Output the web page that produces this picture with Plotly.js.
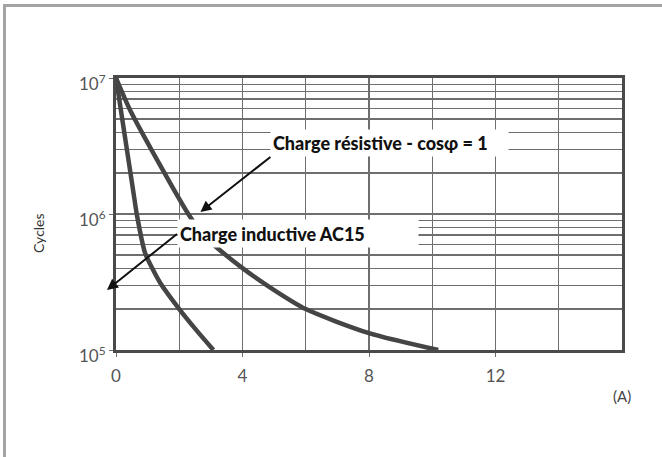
<!DOCTYPE html>
<html>
<head>
<meta charset="utf-8">
<script src="https://cdn.plot.ly/plotly-3.0.1.min.js"></script>
<style>
html,body{margin:0;padding:0;background:#fff;}
#wrap{position:relative;width:662px;height:457px;overflow:hidden;}
#frame{position:absolute;left:3px;top:4px;width:700px;height:500px;border-top:3px solid #a3a3a3;border-left:3px solid #a3a3a3;pointer-events:none;z-index:5;}
#chart{position:absolute;left:0;top:0;width:662px;height:457px;}
</style>
</head>
<body>
<div id="wrap"><div id="chart"></div><div id="frame"></div></div>
<script>
// Curve: Charge inductive AC15 (A, cycles)
var inductiveX = [0, 0.27, 0.54, 0.667, 0.92, 1.175, 1.4, 2.0, 2.54, 3.08];
var inductiveY = [1e7, 3.87e6, 1.5e6, 9.67e5, 5.16e5, 3.87e5, 3.11e5, 2.0e5, 1.4e5, 1e5];
// Curve: Charge résistive - cosφ = 1 (A, cycles)
var resistiveX = [0, 0.444, 1.3, 2.286, 2.7, 3.08, 4, 5, 6, 8, 10.19];
var resistiveY = [1e7, 5.82e6, 2.5e6, 1e6, 7.35e5, 5.97e5, 4e5, 2.76e5, 2e5, 1.33e5, 1e5];

var xTickVals = [0, 4, 8, 12];
var xTickText = ['0', '4', '8', '12'];
var xGridVals = [2, 4, 6, 8, 10, 12, 14];
var yTickVals = [1e5, 1e6, 1e7];
var yTickText = ['10<sup>5</sup>', '10<sup>6</sup>', '10<sup>7</sup>'];
var yGridVals = [2e5, 3e5, 4e5, 5e5, 6e5, 7e5, 8e5, 9e5, 2e6, 3e6, 4e6, 5e6, 6e6, 7e6, 8e6, 9e6];

var labelResistive = 'Charge résistive - cosφ = 1';
var labelInductive = 'Charge inductive AC15';
var xTitle = '(A)';
var yTitle = 'Cycles';

var lineStyle = {color: '#454545', width: 4.5, shape: 'spline', smoothing: 0.7};

var traces = [
  {x: inductiveX, y: inductiveY, type: 'scatter', mode: 'lines', line: lineStyle, hoverinfo: 'skip', cliponaxis: true},
  {x: resistiveX, y: resistiveY, type: 'scatter', mode: 'lines', line: lineStyle, hoverinfo: 'skip', cliponaxis: true}
];

var tickFont = {family: 'Lato, "DejaVu Sans", sans-serif', size: 17, color: '#555'};
var annFont = {family: 'Lato, "Liberation Sans", sans-serif', size: 18, color: '#111', weight: 900};

var layout = {
  width: 662, height: 457,
  margin: {l: 116, r: 40, t: 78, b: 107},
  paper_bgcolor: '#fff', plot_bgcolor: '#fff',
  showlegend: false,
  xaxis: {
    range: [0, 16], tickvals: xTickVals, ticktext: xTickText,
    showgrid: true, gridcolor: '#6e6e6e', gridwidth: 1.2,
    showline: true, linecolor: '#4a4a4a', linewidth: 3, mirror: true,
    ticks: 'outside', ticklen: 4, tickcolor: '#6e6e6e', ticklabelstandoff: 5,
    tickfont: tickFont, zeroline: false, fixedrange: true,
    minor: {tickvals: xGridVals, showgrid: true, gridcolor: '#6e6e6e', gridwidth: 1.2, ticks: ''}
  },
  yaxis: {
    type: 'log', range: [5, 7], tickvals: yTickVals, ticktext: yTickText,
    showgrid: true, gridcolor: '#6e6e6e', gridwidth: 1.2,
    showline: true, linecolor: '#4a4a4a', linewidth: 3, mirror: true,
    ticks: 'outside', ticklen: 4, tickcolor: '#6e6e6e', ticklabelshift: 6,
    tickfont: tickFont, zeroline: false, fixedrange: true,
    minor: {tickvals: yGridVals, showgrid: true, gridcolor: '#6e6e6e', gridwidth: 1.2, ticks: ''}
  },
  annotations: [
    {xref: 'x', yref: 'y', x: 2.67, y: 6.015, ax: 70, ay: -55,
     text: labelResistive, showarrow: true, arrowhead: 2, arrowsize: 1.1, arrowwidth: 2, arrowcolor: '#111',
     xanchor: 'left', yanchor: 'bottom', align: 'left', width: 233, height: 22,
     bgcolor: '#fff', borderpad: 2, font: annFont},
    {xref: 'paper', yref: 'paper', x: -0.0178, y: 0.2206, ax: 70, ay: -56,
     text: labelInductive, showarrow: true, arrowhead: 2, arrowsize: 1.1, arrowwidth: 2, arrowcolor: '#111',
     xanchor: 'left', yanchor: 'middle', align: 'left', width: 236, height: 23,
     bgcolor: '#fff', borderpad: 2, font: annFont},
    {xref: 'paper', yref: 'paper', x: 1.0, y: 0, yshift: -46, xanchor: 'center', yanchor: 'middle',
     text: xTitle, showarrow: false, font: {family: 'Lato, "DejaVu Sans", sans-serif', size: 15, color: '#444'}},
    {xref: 'paper', yref: 'paper', x: 0, xshift: -78, y: 0.5, yshift: -19, textangle: -90,
     xanchor: 'center', yanchor: 'middle',
     text: yTitle, showarrow: false, font: {family: 'Lato, "DejaVu Sans", sans-serif', size: 14, color: '#333'}}
  ]
};

Plotly.newPlot('chart', traces, layout, {staticPlot: true, displayModeBar: false});
</script>
</body>
</html>
